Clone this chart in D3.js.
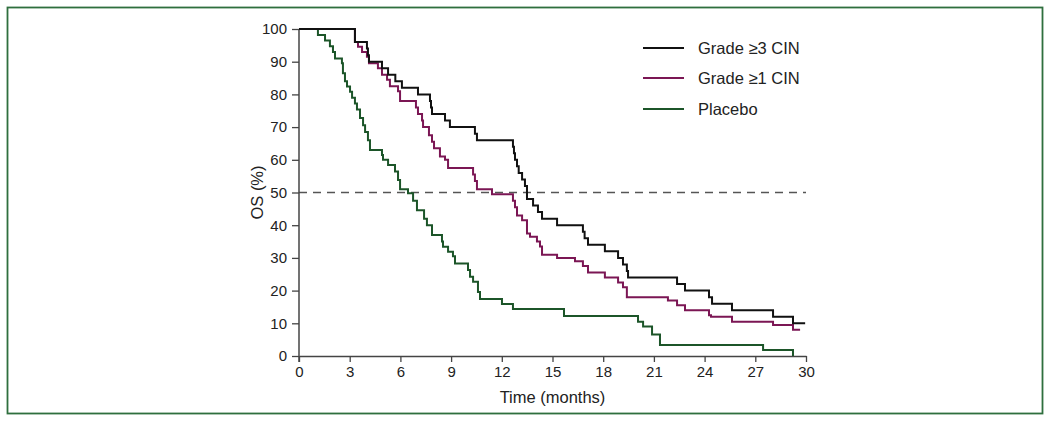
<!DOCTYPE html>
<html>
<head>
<meta charset="utf-8">
<script src="https://cdn.jsdelivr.net/npm/d3@7"></script>
<style>
  html, body { margin: 0; padding: 0; background: #fff; }
  svg { display: block; }
  text { font-family: "Liberation Sans", Arial, Helvetica, sans-serif; fill: #222; }
</style>
</head>
<body>
<svg id="chart" width="1050" height="421"></svg>
<script>
// ---- Data ----
const xTicks = [0, 3, 6, 9, 12, 15, 18, 21, 24, 27, 30];
const yTicks = [0, 10, 20, 30, 40, 50, 60, 70, 80, 90, 100];
const seriesNames = ["Grade \u22653 CIN", "Grade \u22651 CIN", "Placebo"];

const grade3Time = [0, 3.31, 4.02, 4.08, 4.14, 4.91, 5.27, 5.7, 6.09, 7.04, 7.75, 7.81, 7.87, 8.64, 8.93, 10.41, 10.53, 12.66, 12.72, 12.78, 12.9, 13.0, 13.2, 13.37, 13.49, 13.85, 14.14, 14.38, 15.27, 16.8, 16.9, 17.1, 18.1, 18.88, 19.17, 19.4, 19.47, 22.37, 22.84, 24.26, 24.44, 25.62, 28.05, 29.23, 29.95];
const grade3Surv = [100, 96, 94, 92, 90, 88, 86, 84, 82, 80, 78, 76, 74, 72, 70, 68, 66, 64, 62, 60, 58, 56, 54, 52, 48, 46, 44, 42, 40, 38, 36, 34, 32, 30, 28, 26, 24, 22, 20, 18, 16, 14, 12, 10, 10];

const grade1Time = [0, 3.31, 3.49, 3.73, 4.02, 4.14, 4.67, 4.91, 5.21, 5.38, 5.86, 5.98, 6.92, 7.04, 7.28, 7.34, 7.69, 7.87, 7.99, 8.34, 8.64, 8.82, 10.3, 10.41, 10.53, 11.42, 12.66, 12.78, 12.9, 13.2, 13.49, 13.67, 14.08, 14.26, 14.38, 15.27, 16.33, 16.8, 17.1, 18.1, 18.88, 19.17, 19.4, 21.83, 22.37, 22.84, 24.26, 24.38, 25.62, 28.05, 29.23, 29.65];
const grade1Surv = [100, 96, 94.6, 93, 91.5, 89.5, 88, 86, 84.5, 82.5, 81, 78, 76, 74, 72, 70, 67.5, 65.5, 63.5, 61, 60, 57.5, 55.5, 53.5, 51, 49.5, 47.5, 45.5, 43, 41.5, 37.5, 36.5, 35, 33.5, 31, 30, 29, 27.5, 25.5, 24, 22.5, 21, 18, 17, 15.5, 14, 12.5, 12, 10.5, 9.5, 8, 8];

const placeboTime = [0, 1.12, 1.54, 1.83, 2.01, 2.13, 2.54, 2.6, 2.72, 2.84, 3.02, 3.14, 3.31, 3.43, 3.61, 3.79, 3.91, 4.08, 4.2, 4.91, 4.97, 5.27, 5.68, 5.86, 5.98, 6.45, 6.75, 6.98, 7.4, 7.57, 7.87, 8.46, 8.52, 8.82, 9.11, 9.23, 10.0, 10.12, 10.3, 10.59, 10.71, 12.01, 12.66, 15.68, 20.06, 20.36, 20.89, 21.36, 27.46, 29.23];
const placeboSurv = [100, 98.2, 96.5, 94.7, 93, 91, 89.5, 86.5, 84, 82.4, 80.8, 79, 77.2, 75.4, 72.8, 70.6, 68.5, 66, 63, 61.5, 60, 58.4, 56.4, 53.8, 51, 49.8, 47.5, 44.6, 42, 40, 37, 35, 33.4, 31.9, 30.5, 28.3, 26.3, 24.2, 22.7, 19.6, 17.4, 15.9, 14.4, 12.2, 10.5, 9, 6.6, 3.4, 1.8, 0];

const seriesColors = ["#111111", "#7b1654", "#1c5529"];

// ---- Drawing ----
const svg = d3.select("#chart");

// outer frame
svg.append("rect")
  .attr("x", 7.5).attr("y", 7.5)
  .attr("width", 1035).attr("height", 406)
  .attr("fill", "none")
  .attr("stroke", "#2f6f3e")
  .attr("stroke-width", 1.8);

const x = d3.scaleLinear().domain([0, 30]).range([299, 806]);
const y = d3.scaleLinear().domain([0, 100]).range([356, 29]);

// dashed median line
svg.append("line")
  .attr("x1", x(0)).attr("x2", x(30))
  .attr("y1", y(50)).attr("y2", y(50))
  .attr("stroke", "#555")
  .attr("stroke-width", 1.5)
  .attr("stroke-dasharray", "8,6");

// axes
const xAxis = d3.axisBottom(x).tickValues(xTicks).tickSize(6).tickSizeOuter(0).tickPadding(4);
const yAxis = d3.axisLeft(y).tickValues(yTicks).tickSize(7).tickSizeOuter(0).tickPadding(5);

const gx = svg.append("g").attr("transform", `translate(0,${y(0)})`).call(xAxis);
const gy = svg.append("g").attr("transform", `translate(${x(0)},0)`).call(yAxis);

[gx, gy].forEach(g => {
  g.select(".domain").attr("stroke", "#444").attr("stroke-width", 1.5);
  g.selectAll(".tick line").attr("stroke", "#444").attr("stroke-width", 1.3);
  g.selectAll(".tick text")
    .style("font-family", "'Liberation Sans', Arial, sans-serif")
    .style("font-size", "15px")
    .attr("fill", "#222");
});
// extend y axis slightly below 0 like reference
gy.select(".domain").attr("d", `M0,${y(100)}V${y(0) + 6}`);

// axis titles
svg.append("text")
  .attr("x", (x(0) + x(30)) / 2)
  .attr("y", 403)
  .attr("text-anchor", "middle")
  .style("font-size", "16.5px")
  .text("Time (months)");

svg.append("text")
  .attr("transform", `translate(263,${y(50)}) rotate(-90)`)
  .attr("text-anchor", "middle")
  .style("font-size", "16.5px")
  .text("OS (%)");

// survival curves
const series = [
  { t: grade3Time, s: grade3Surv },
  { t: grade1Time, s: grade1Surv },
  { t: placeboTime, s: placeboSurv }
];
const line = d3.line()
  .x(d => x(d[0]))
  .y(d => y(d[1]))
  .curve(d3.curveStepAfter);

[2, 1, 0].forEach(i => {
  const pts = series[i].t.map((t, j) => [t, series[i].s[j]]);
  svg.append("path")
    .datum(pts)
    .attr("d", line)
    .attr("fill", "none")
    .attr("stroke", seriesColors[i])
    .attr("stroke-width", 2);
});

// legend
const legendY = [48, 78, 109];
seriesNames.forEach((name, i) => {
  svg.append("line")
    .attr("x1", 643).attr("x2", 684)
    .attr("y1", legendY[i]).attr("y2", legendY[i])
    .attr("stroke", seriesColors[i])
    .attr("stroke-width", 2);
  svg.append("text")
    .attr("x", 698)
    .attr("y", legendY[i] + 6)
    .style("font-size", "16.5px")
    .text(name);
});
</script>
</body>
</html>
